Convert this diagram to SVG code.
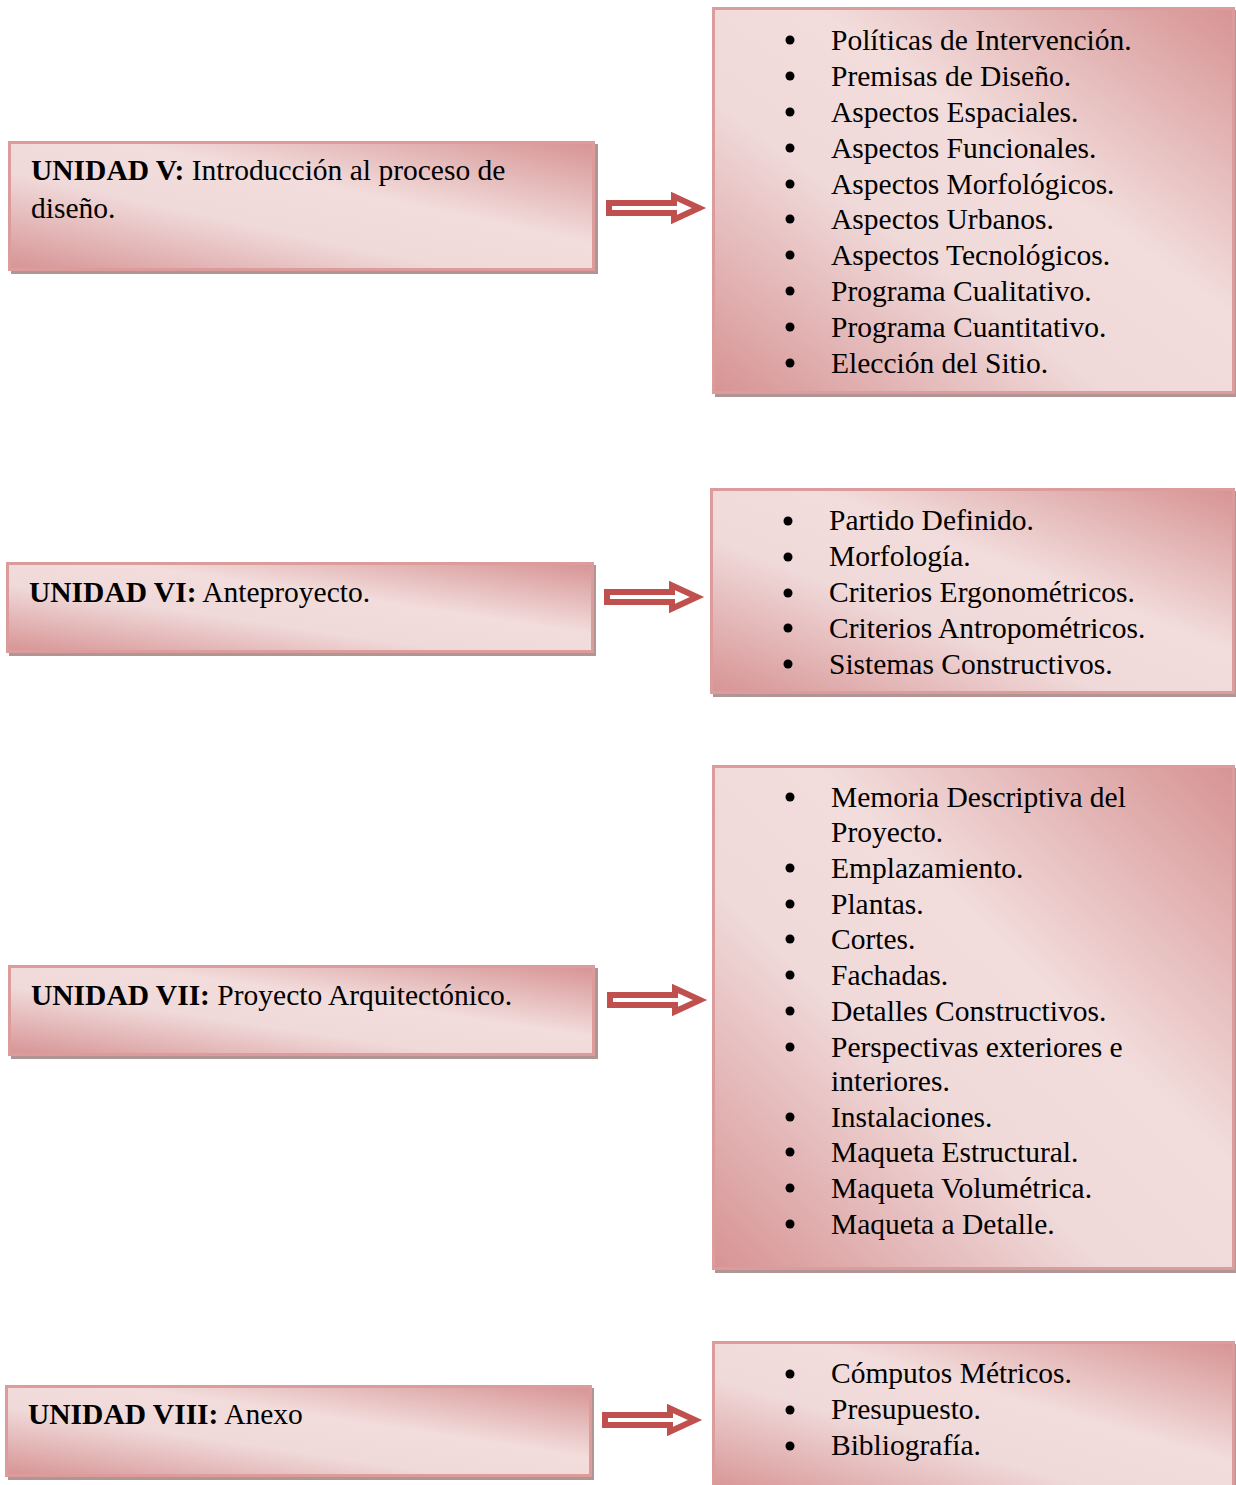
<svg xmlns="http://www.w3.org/2000/svg" xmlns:xlink="http://www.w3.org/1999/xlink" width="1236" height="1485" viewBox="0 0 1236 1485">
  <style>
    .box { fill: url(#pinkFill); stroke: #dc9c9c; stroke-width: 3; }
    .shadow { fill: #b09595; }
    .txt { font-family: "Liberation Serif", "Times New Roman", serif; font-size: 29.5px; fill: #000; }
    .b { font-weight: bold; }
    .dot { fill: #000; }
    .arrow { fill: #fff; stroke: #c0504d; stroke-width: 6; stroke-linejoin: miter; }
  </style>
  <defs>
    <linearGradient id="pinkFill" x1="0" y1="1" x2="1" y2="0">
      <stop offset="0" stop-color="#d79394"/>
      <stop offset="0.38" stop-color="#f0d9d9"/>
      <stop offset="0.6" stop-color="#f2dddc"/>
      <stop offset="1" stop-color="#d79394"/>
    </linearGradient>
    <!-- outlined block arrow, origin at left end of shaft centre -->
    <path id="blockArrow" d="M3,-5 H68 V-11.5 L93,0 L68,11.5 V5 H3 Z"/>
  </defs>

  <rect width="1236" height="1485" fill="#fff"/>

  <!-- Unit V -->
  <g id="unidad-v">
    <rect class="shadow" x="11" y="144" width="587" height="130"/>
    <rect class="box" x="9.5" y="142.5" width="584" height="127"/>
    <text class="txt" x="31" y="180"><tspan class="b">UNIDAD V:</tspan> Introducción al proceso de</text>
    <text class="txt" x="31" y="218">diseño.</text>
  </g>
  <g id="lista-v">
    <rect class="shadow" x="715" y="10" width="524" height="387"/>
    <rect class="box" x="713.5" y="8.5" width="520" height="384"/>
    <g class="dot">
      <circle cx="790" cy="40" r="4.5"/><circle cx="790" cy="76" r="4.5"/><circle cx="790" cy="112" r="4.5"/>
      <circle cx="790" cy="148" r="4.5"/><circle cx="790" cy="184" r="4.5"/><circle cx="790" cy="219" r="4.5"/>
      <circle cx="790" cy="255" r="4.5"/><circle cx="790" cy="291" r="4.5"/><circle cx="790" cy="327" r="4.5"/>
      <circle cx="790" cy="363" r="4.5"/>
    </g>
    <text class="txt" x="831" y="50">Políticas de Intervención.</text>
    <text class="txt" x="831" y="86">Premisas de Diseño.</text>
    <text class="txt" x="831" y="122">Aspectos Espaciales.</text>
    <text class="txt" x="831" y="158">Aspectos Funcionales.</text>
    <text class="txt" x="831" y="194">Aspectos Morfológicos.</text>
    <text class="txt" x="831" y="229">Aspectos Urbanos.</text>
    <text class="txt" x="831" y="265">Aspectos Tecnológicos.</text>
    <text class="txt" x="831" y="301">Programa Cualitativo.</text>
    <text class="txt" x="831" y="337">Programa Cuantitativo.</text>
    <text class="txt" x="831" y="373">Elección del Sitio.</text>
  </g>

  <!-- Unit VI -->
  <g id="unidad-vi">
    <rect class="shadow" x="9" y="565" width="587" height="91"/>
    <rect class="box" x="7.5" y="563.5" width="585" height="88"/>
    <text class="txt" x="29" y="602"><tspan class="b">UNIDAD VI:</tspan> Anteproyecto.</text>
  </g>
  <g id="lista-vi">
    <rect class="shadow" x="713" y="491" width="526" height="206"/>
    <rect class="box" x="711.5" y="489.5" width="522" height="203"/>
    <g class="dot">
      <circle cx="788" cy="521" r="4.5"/><circle cx="788" cy="557" r="4.5"/><circle cx="788" cy="593" r="4.5"/>
      <circle cx="788" cy="628" r="4.5"/><circle cx="788" cy="664" r="4.5"/>
    </g>
    <text class="txt" x="829" y="530">Partido Definido.</text>
    <text class="txt" x="829" y="566">Morfología.</text>
    <text class="txt" x="829" y="602">Criterios Ergonométricos.</text>
    <text class="txt" x="829" y="638">Criterios Antropométricos.</text>
    <text class="txt" x="829" y="674">Sistemas Constructivos.</text>
  </g>

  <!-- Unit VII -->
  <g id="unidad-vii">
    <rect class="shadow" x="11" y="968" width="587" height="91"/>
    <rect class="box" x="9.5" y="966.5" width="584" height="88"/>
    <text class="txt" x="31" y="1005"><tspan class="b">UNIDAD VII:</tspan> Proyecto Arquitectónico.</text>
  </g>
  <g id="lista-vii">
    <rect class="shadow" x="715" y="768" width="524" height="505"/>
    <rect class="box" x="713.5" y="766.5" width="520" height="502"/>
    <g class="dot">
      <circle cx="790" cy="797" r="4.5"/><circle cx="790" cy="868" r="4.5"/><circle cx="790" cy="904" r="4.5"/>
      <circle cx="790" cy="939" r="4.5"/><circle cx="790" cy="975" r="4.5"/><circle cx="790" cy="1011" r="4.5"/>
      <circle cx="790" cy="1047" r="4.5"/><circle cx="790" cy="1117" r="4.5"/><circle cx="790" cy="1152" r="4.5"/>
      <circle cx="790" cy="1188" r="4.5"/><circle cx="790" cy="1224" r="4.5"/>
    </g>
    <text class="txt" x="831" y="807">Memoria Descriptiva del</text>
    <text class="txt" x="831" y="842">Proyecto.</text>
    <text class="txt" x="831" y="878">Emplazamiento.</text>
    <text class="txt" x="831" y="914">Plantas.</text>
    <text class="txt" x="831" y="949">Cortes.</text>
    <text class="txt" x="831" y="985">Fachadas.</text>
    <text class="txt" x="831" y="1021">Detalles Constructivos.</text>
    <text class="txt" x="831" y="1057">Perspectivas exteriores e</text>
    <text class="txt" x="831" y="1091">interiores.</text>
    <text class="txt" x="831" y="1127">Instalaciones.</text>
    <text class="txt" x="831" y="1162">Maqueta Estructural.</text>
    <text class="txt" x="831" y="1198">Maqueta Volumétrica.</text>
    <text class="txt" x="831" y="1234">Maqueta a Detalle.</text>
  </g>

  <!-- Unit VIII -->
  <g id="unidad-viii">
    <rect class="shadow" x="8" y="1388" width="586" height="92"/>
    <rect class="box" x="6.5" y="1386.5" width="584" height="89"/>
    <text class="txt" x="28" y="1424"><tspan class="b">UNIDAD VIII:</tspan> Anexo</text>
  </g>
  <g id="lista-viii">
    <rect class="shadow" x="715" y="1344" width="524" height="150"/>
    <rect class="box" x="713.5" y="1342.5" width="520" height="150"/>
    <g class="dot">
      <circle cx="790" cy="1374" r="4.5"/><circle cx="790" cy="1410" r="4.5"/><circle cx="790" cy="1446" r="4.5"/>
    </g>
    <text class="txt" x="831" y="1383">Cómputos Métricos.</text>
    <text class="txt" x="831" y="1419">Presupuesto.</text>
    <text class="txt" x="831" y="1455">Bibliografía.</text>
  </g>

  <!-- connectors -->
  <g id="connectors">
    <use xlink:href="#blockArrow" class="arrow" transform="translate(606,208)"/>
    <use xlink:href="#blockArrow" class="arrow" transform="translate(604,597)"/>
    <use xlink:href="#blockArrow" class="arrow" transform="translate(607,1000)"/>
    <use xlink:href="#blockArrow" class="arrow" transform="translate(602,1420)"/>
  </g>
</svg>
